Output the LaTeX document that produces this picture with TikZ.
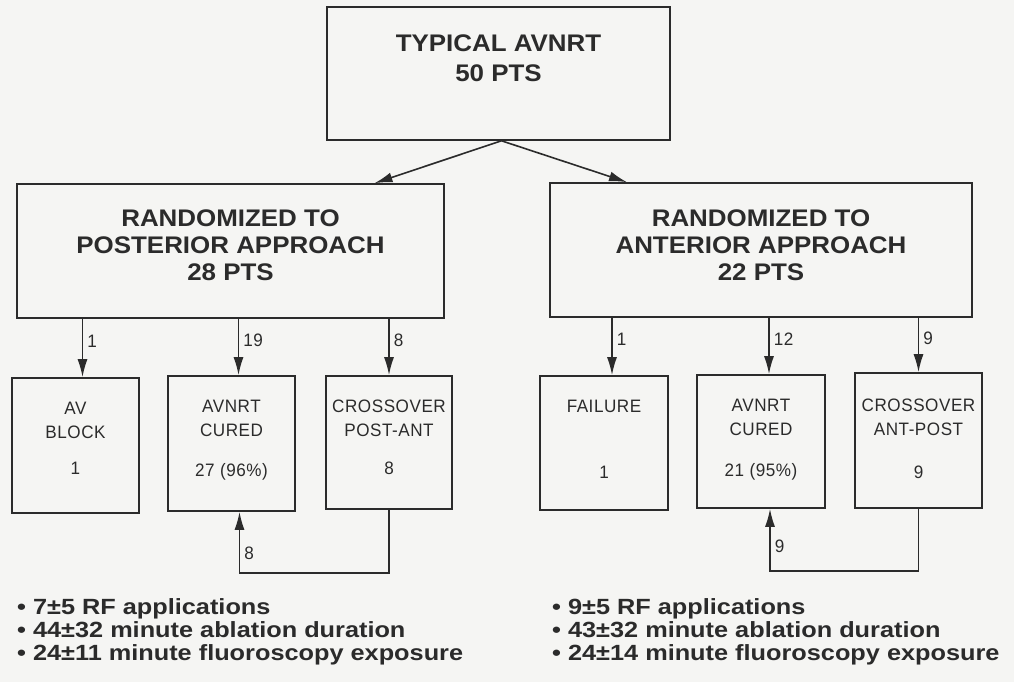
\documentclass[tikz,border=0pt]{standalone}
\usepackage{fontspec}
\setmainfont{Liberation Sans}
\newfontfamily\hdfont[FakeStretch=1.08]{Liberation Sans Bold}
\newfontfamily\blfont[FakeStretch=1.15]{Liberation Sans Bold}
\newfontfamily\bxfont[FakeStretch=0.95,LetterSpace=3]{Liberation Sans}
\usepackage{tikz}
\usetikzlibrary{positioning,arrows.meta}
\definecolor{avink}{HTML}{2B2B2B}
\definecolor{avpaper}{HTML}{F5F5F3}

\begin{document}
\begin{tikzpicture}[x=1pt,y=-1pt,
  bx/.style={draw=avink,line width=1.6pt,inner sep=0pt},
  hd/.style={font=\hdfont\fontsize{24}{27}\selectfont,text=avink,align=center,inner sep=0pt,anchor=north},
  sm/.style={font=\bxfont\fontsize{18}{24}\selectfont,text=avink,align=center,inner sep=0pt,anchor=north,yshift=-25pt},
  ar/.style={draw=avink,line width=1.6pt,-{Latex[length=18pt,width=10pt]}},
  lb/.style={font=\bxfont\fontsize{18}{18}\selectfont,text=avink,anchor=west,inner sep=4pt},
  bl/.style={font=\blfont\fontsize{22}{23}\selectfont,text=avink,align=left,inner sep=0pt,anchor=north west}]
\fill[avpaper] (0,0) rectangle (1014,682);
\useasboundingbox (0,0) rectangle (1014,682);
% top and the two arms
\node[bx,minimum width=343pt,minimum height=133pt,label={[hd,yshift=-28pt]north:{TYPICAL AVNRT\\[3pt]50 PTS}}] (n0) at (498.5,73.5) {};
\node[bx,minimum width=427pt,minimum height=134pt,label={[hd,yshift=-26pt]north:{RANDOMIZED TO\\POSTERIOR APPROACH\\28 PTS}}] (n1) at (230.5,251) {};
\node[bx,minimum width=422pt,minimum height=134pt,label={[hd,yshift=-27pt]north:{RANDOMIZED TO\\ANTERIOR APPROACH\\22 PTS}}] (n2) at (761,250) {};
% outcomes
\node[bx,minimum width=127pt,minimum height=135pt,label={[sm]north:{AV\\BLOCK\\[12pt]1}}] (a1) at (75.5,445.5) {};
\node[bx,minimum width=127pt,minimum height=135pt,label={[sm]north:{AVNRT\\CURED\\[16pt]27 (96\%)}}] (a2) at (231.5,443.5) {};
\node[bx,minimum width=126pt,minimum height=133pt,label={[sm]north:{CROSSOVER\\POST-ANT\\[14pt]8}}] (a3) at (389,442.5) {};
\node[bx,minimum width=128pt,minimum height=134pt,label={[sm]north:{FAILURE\\[42pt]1}}] (b1) at (604,443) {};
\node[bx,minimum width=128pt,minimum height=133pt,label={[sm]north:{AVNRT\\CURED\\[17pt]21 (95\%)}}] (b2) at (761,441.5) {};
\node[bx,minimum width=127pt,minimum height=135pt,label={[sm,yshift=-2pt]north:{CROSSOVER\\ANT-POST\\[19pt]9}}] (b3) at (918.5,440.5) {};
% summaries
\node[bl] (c1) at (17,598) {• 7±5 RF applications\\• 44±32 minute ablation duration\\• 24±11 minute fluoroscopy exposure};
\node[bl] (c2) at (552,598) {• 9±5 RF applications\\• 43±32 minute ablation duration\\• 24±14 minute fluoroscopy exposure};
% connectors
\draw[ar] ([xshift=3pt]n0.south) -- ([xshift=144pt]n1.north);
\draw[ar] ([xshift=3pt]n0.south) -- ([xshift=-134pt]n2.north);
\draw[ar] ([xshift=7pt]a1.north|-n1.south) -- node[lb,pos=.38]{1} ([xshift=7pt]a1.north);
\draw[ar] ([xshift=7pt]a2.north|-n1.south) -- node[lb,pos=.38]{19} ([xshift=7pt]a2.north);
\draw[ar] (a3.north|-n1.south) -- node[lb,pos=.38]{8} (a3.north);
\draw[ar] ([xshift=8pt]b1.north|-n2.south) -- node[lb,pos=.38]{1} ([xshift=8pt]b1.north);
\draw[ar] ([xshift=8pt]b2.north|-n2.south) -- node[lb,pos=.38]{12} ([xshift=8pt]b2.north);
\draw[ar] (b3.north|-n2.south) -- node[lb,pos=.38]{9} (b3.north);
\draw[ar] (a3.south) -- ++(0,63) -| node[lb,pos=.66]{8} ([xshift=8pt]a2.south);
\draw[ar] (b3.south) -- ++(0,62) -| node[lb,pos=.7]{9} ([xshift=9pt]b2.south);
\end{tikzpicture}
\end{document}
